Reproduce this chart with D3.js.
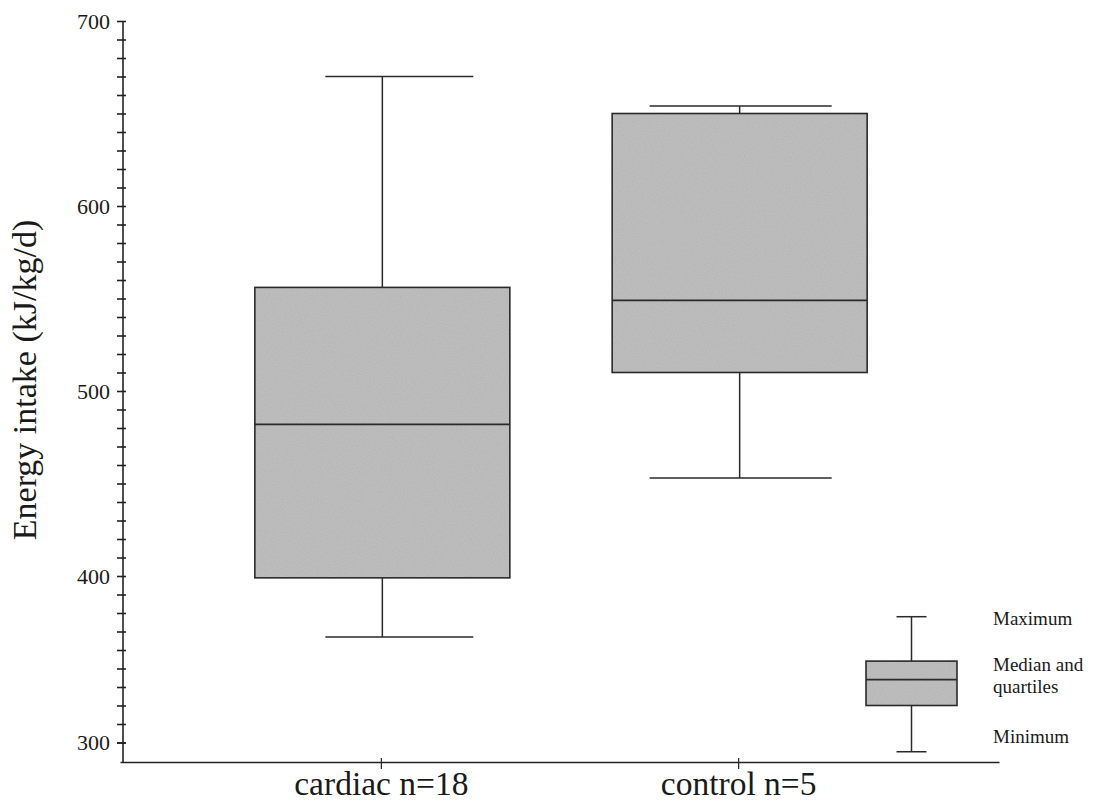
<!DOCTYPE html>
<html>
<head>
<meta charset="utf-8">
<script src="https://cdn.jsdelivr.net/npm/d3@7"></script>
<style>
  body { margin: 0; background: #fff; }
  svg text { font-family: "Liberation Serif", "DejaVu Serif", serif; fill: #1a1a1a; }
</style>
</head>
<body>
<div id="chart"></div>
<script>
// groups and box statistics (kJ/kg/d)
const groups = ["cardiac n=18", "control n=5"];
const minVals = [367, 453];
const q1Vals = [399, 510];
const medianVals = [482, 549];
const q3Vals = [556, 650];
const maxVals = [670, 654];

// legend sample box
const legendStats = { min: 305, q1: 330, median: 344, q3: 354, max: 378 };
const legendLabels = [["Maximum"], ["Median and", "quartiles"], ["Minimum"]];

// y axis ticks (the printed "300" sits one minor step above the baseline)
const yTickValues = [310, 400, 500, 600, 700];
const yTickLabels = ["300", "400", "500", "600", "700"];
const yAxisTitle = "Energy intake (kJ/kg/d)";

document.addEventListener("DOMContentLoaded", () => {
    const width = 1100, height = 806;
    const axisX = 123, baseY = 762;

    const svg = d3.select("#chart").append("svg")
        .attr("width", width)
        .attr("height", height);

    // speckled grey fill like the scanned original
    const defs = svg.append("defs");
    const filt = defs.append("filter").attr("id", "grain")
        .attr("x", 0).attr("y", 0).attr("width", 1).attr("height", 1);
    filt.append("feTurbulence").attr("type", "fractalNoise")
        .attr("baseFrequency", 0.9).attr("numOctaves", 2).attr("seed", 3).attr("result", "noise");
    filt.append("feColorMatrix").attr("in", "noise").attr("type", "matrix")
        .attr("values", "0 0 0 0 0.66  0 0 0 0 0.66  0 0 0 0 0.66  0 0 0 0.4 0").attr("result", "tint");
    filt.append("feComposite").attr("in", "tint").attr("in2", "SourceGraphic").attr("operator", "atop");

    const y = d3.scaleLinear().domain([300, 700]).range([761, 21]);
    const x = d3.scalePoint().domain(groups).range([120, 999]).padding(0.73);

    // y axis: minor ticks
    const minorTicks = d3.range(310, 700, 10).filter(v => v % 100 !== 0);
    const yMinor = svg.append("g")
        .attr("transform", `translate(${axisX},0)`)
        .call(d3.axisLeft(y).tickValues(minorTicks).tickSize(6).tickFormat(""));
    yMinor.select(".domain").remove();
    yMinor.selectAll(".tick line").attr("x1", 3).attr("stroke", "#222").attr("stroke-width", 1.6);

    const yMajor = svg.append("g")
        .attr("transform", `translate(${axisX},0)`)
        .call(d3.axisLeft(y)
            .tickValues(yTickValues)
            .tickSize(6)
            .tickSizeOuter(0)
            .tickPadding(7)
            .tickFormat((d, i) => yTickLabels[i]));
    yMajor.select(".domain").remove();
    yMajor.selectAll(".tick line").attr("x1", 3).attr("stroke", "#222").attr("stroke-width", 1.6);
    yMajor.selectAll(".tick text")
        .attr("font-size", 22)
        .style("font-family", "'Liberation Serif', serif")
        .attr("fill", "#1a1a1a");

    svg.append("line")
        .attr("x1", axisX).attr("x2", axisX)
        .attr("y1", y(700)).attr("y2", baseY)
        .attr("stroke", "#222").attr("stroke-width", 1.6);

    // x axis
    const xAxis = svg.append("g")
        .attr("transform", `translate(0,${baseY})`)
        .call(d3.axisBottom(x).tickSize(7).tickSizeOuter(0).tickPadding(3));
    xAxis.select(".domain").attr("stroke", "#222").attr("stroke-width", 1.6);
    xAxis.selectAll(".tick line").attr("y1", -4).attr("stroke", "#222").attr("stroke-width", 1.2);
    xAxis.selectAll(".tick text")
        .attr("font-size", 33.5)
        .attr("dy", "0.68em")
        .style("font-family", "'Liberation Serif', serif")
        .attr("fill", "#1a1a1a");

    // y axis title
    svg.append("text")
        .attr("transform", `translate(36,380) rotate(-90)`)
        .attr("text-anchor", "middle")
        .attr("font-size", 34)
        .text(yAxisTitle);

    // boxes
    const boxW = 255;
    const capOffsets = [[-57, 91], [-90, 92]];
    const stats = groups.map((g, i) => ({
        group: g, cx: x(g) + 1.5,
        min: minVals[i], q1: q1Vals[i], median: medianVals[i], q3: q3Vals[i], max: maxVals[i],
        cap: capOffsets[i]
    }));

    function drawBox(sel, d, w, cap) {
        const g = sel.append("g");
        const stroke = "#2a2a2a";
        // whiskers
        g.append("line").attr("x1", d.cx).attr("x2", d.cx)
            .attr("y1", y(d.max)).attr("y2", y(d.q3))
            .attr("stroke", stroke).attr("stroke-width", 1.5);
        g.append("line").attr("x1", d.cx).attr("x2", d.cx)
            .attr("y1", y(d.q1)).attr("y2", y(d.min))
            .attr("stroke", stroke).attr("stroke-width", 1.5);
        // caps
        [d.max, d.min].forEach(v => {
            g.append("line")
                .attr("x1", d.cx + cap[0]).attr("x2", d.cx + cap[1])
                .attr("y1", y(v)).attr("y2", y(v))
                .attr("stroke", stroke).attr("stroke-width", 1.5);
        });
        // box
        g.append("rect")
            .attr("x", d.cx - w / 2).attr("width", w)
            .attr("y", y(d.q3)).attr("height", y(d.q1) - y(d.q3))
            .attr("fill", "#b3b3b3")
            .attr("filter", "url(#grain)");
        g.append("rect")
            .attr("x", d.cx - w / 2).attr("width", w)
            .attr("y", y(d.q3)).attr("height", y(d.q1) - y(d.q3))
            .attr("fill", "none")
            .attr("stroke", stroke).attr("stroke-width", 1.6);
        g.append("line")
            .attr("x1", d.cx - w / 2).attr("x2", d.cx + w / 2)
            .attr("y1", y(d.median)).attr("y2", y(d.median))
            .attr("stroke", stroke).attr("stroke-width", 1.8);
    }

    stats.forEach(d => drawBox(svg, d, boxW, d.cap));

    // legend sample box
    const legendX = 911.5;
    drawBox(svg, { cx: legendX, ...legendStats }, 91, [-15, 15]);

    const legendText = svg.append("g").attr("font-size", 19);
    const labelYs = [y(legendStats.max) + 8, y(legendStats.median) - 9, y(legendStats.min) - 9];
    legendLabels.forEach((lines, i) => {
        lines.forEach((t, j) => {
            legendText.append("text")
                .attr("x", 993)
                .attr("y", labelYs[i] + j * 22)
                .text(t);
        });
    });
});
</script>
</body>
</html>
